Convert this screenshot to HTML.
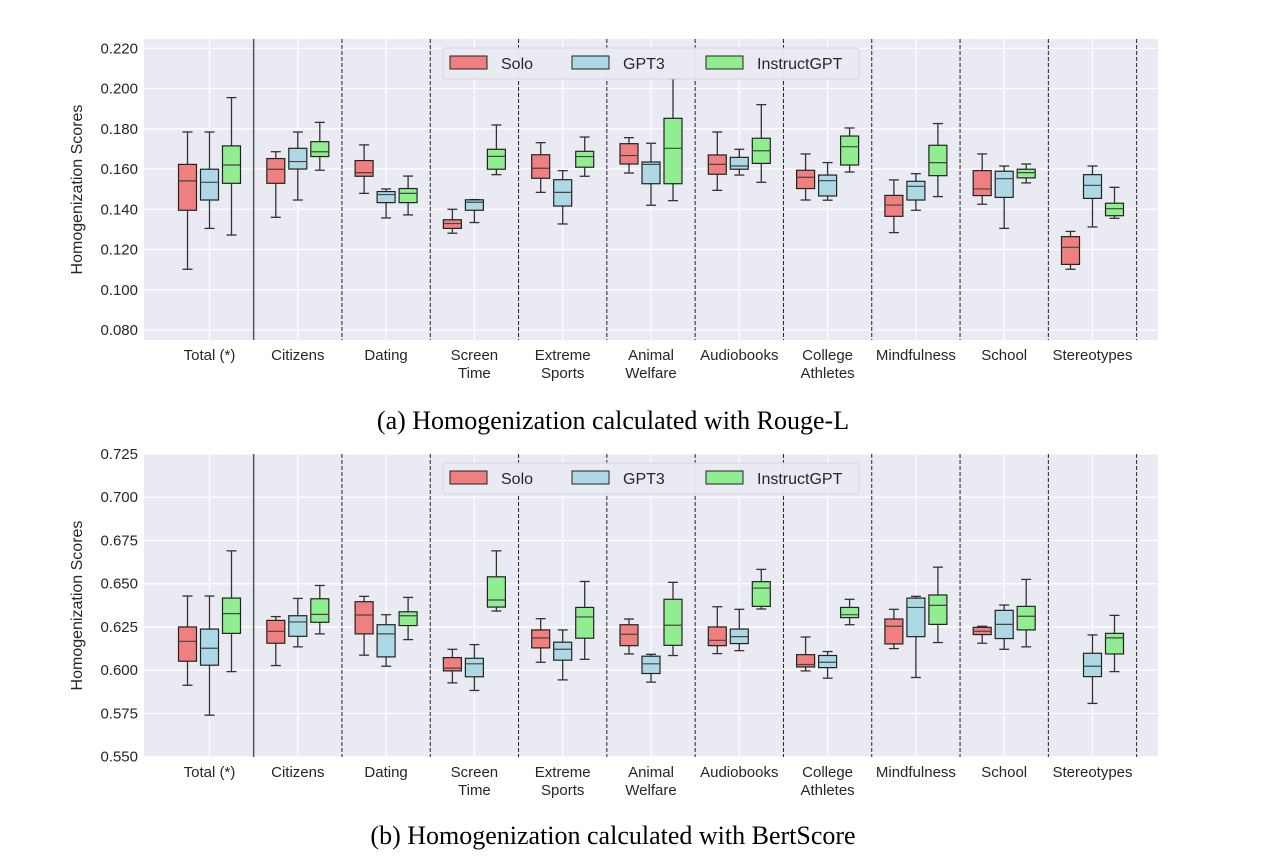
<!DOCTYPE html>
<html><head><meta charset="utf-8"><style>
body{margin:0;background:#fff;}
svg{display:block;}
text{font-family:"Liberation Sans",sans-serif;}
text.cap{font-family:"Liberation Serif",serif;}
</style></head><body>
<svg id="chart" width="1262" height="866" xmlns="http://www.w3.org/2000/svg"></svg>
<script>
const categories = ["Total (*)","Citizens","Dating","Screen\nTime","Extreme\nSports","Animal\nWelfare","Audiobooks","College\nAthletes","Mindfulness","School","Stereotypes"];
const seriesNames = ["Solo","GPT3","InstructGPT"];
const seriesColors = ["#f08080","#add8e6","#90ee90"];
// each box: [low, q1, median, q3, high]
const rougeSolo = [[0.1102,0.1395,0.1541,0.1623,0.1784],[0.1360,0.1529,0.1599,0.1652,0.1686],[0.1479,0.1564,0.1582,0.1642,0.1720],[0.1281,0.1305,0.1329,0.1348,0.1400],[0.1484,0.1554,0.1604,0.1671,0.1731],[0.1580,0.1625,0.1667,0.1726,0.1756],[0.1494,0.1574,0.1623,0.1670,0.1784],[0.1446,0.1503,0.1559,0.1594,0.1675],[0.1284,0.1365,0.1421,0.1469,0.1546],[0.1425,0.1468,0.1501,0.1592,0.1675],[0.1102,0.1126,0.1211,0.1264,0.1290]];
const rougeGPT3 = [[0.1305,0.1446,0.1534,0.1599,0.1784],[0.1446,0.1600,0.1637,0.1703,0.1784],[0.1357,0.1433,0.1473,0.1488,0.1501],[0.1334,0.1395,0.1435,0.1447,0.1448],[0.1327,0.1416,0.1484,0.1547,0.1592],[0.1420,0.1527,0.1623,0.1635,0.1728],[0.1570,0.1599,0.1615,0.1658,0.1698],[0.1445,0.1466,0.1542,0.1570,0.1632],[0.1395,0.1446,0.1514,0.1539,0.1577],[0.1305,0.1459,0.1552,0.1589,0.1615],[0.1312,0.1454,0.1519,0.1572,0.1615]];
const rougeInstruct = [[0.1272,0.1529,0.1620,0.1715,0.1955],[0.1594,0.1662,0.1686,0.1736,0.1832],[0.1372,0.1433,0.1479,0.1503,0.1565],[0.1572,0.1599,0.1663,0.1698,0.1819],[0.1564,0.1609,0.1662,0.1688,0.1759],[0.1443,0.1527,0.1703,0.1852,0.2048],[0.1534,0.1628,0.1691,0.1753,0.1920],[0.1585,0.1620,0.1711,0.1764,0.1804],[0.1463,0.1567,0.1632,0.1718,0.1826],[0.1531,0.1556,0.1582,0.1599,0.1625],[0.1355,0.1368,0.1403,0.1430,0.1509]];
const bertSolo = [[0.5913,0.6052,0.6167,0.6250,0.6429],[0.6027,0.6156,0.6225,0.6288,0.6310],[0.6087,0.6210,0.6319,0.6396,0.6427],[0.5927,0.5996,0.6012,0.6073,0.6121],[0.6046,0.6129,0.6187,0.6233,0.6298],[0.6094,0.6142,0.6208,0.6263,0.6296],[0.6096,0.6142,0.6173,0.6250,0.6367],[0.5996,0.6019,0.6033,0.6090,0.6192],[0.6125,0.6152,0.6254,0.6296,0.6352],[0.6156,0.6206,0.6225,0.6248,0.6254],null];
const bertGPT3 = [[0.5740,0.6029,0.6127,0.6238,0.6429],[0.6135,0.6196,0.6279,0.6315,0.6415],[0.6023,0.6077,0.6210,0.6263,0.6321],[0.5883,0.5962,0.6037,0.6069,0.6148],[0.5944,0.6058,0.6121,0.6162,0.6233],[0.5931,0.5981,0.6037,0.6081,0.6092],[0.6113,0.6154,0.6194,0.6238,0.6352],[0.5954,0.6015,0.6046,0.6085,0.6108],[0.5958,0.6194,0.6363,0.6417,0.6427],[0.6121,0.6183,0.6265,0.6346,0.6377],[0.5808,0.5963,0.6023,0.6098,0.6204]];
const bertInstruct = [[0.5992,0.6213,0.6327,0.6417,0.6690],[0.6210,0.6277,0.6323,0.6413,0.6490],[0.6177,0.6258,0.6315,0.6338,0.6421],[0.6342,0.6365,0.6406,0.6540,0.6690],[0.6063,0.6185,0.6308,0.6363,0.6513],[0.6085,0.6144,0.6260,0.6410,0.6508],[0.6354,0.6369,0.6475,0.6512,0.6583],[0.6263,0.6304,0.6321,0.6363,0.6410],[0.6160,0.6265,0.6375,0.6435,0.6596],[0.6135,0.6233,0.6312,0.6369,0.6525],[0.5992,0.6094,0.6187,0.6213,0.6317]];
const rougeTicks = [0.080,0.100,0.120,0.140,0.160,0.180,0.200,0.220];
const rougeTickLabels = ["0.080","0.100","0.120","0.140","0.160","0.180","0.200","0.220"];
const bertTicks = [0.550,0.575,0.600,0.625,0.650,0.675,0.700,0.725];
const bertTickLabels = ["0.550","0.575","0.600","0.625","0.650","0.675","0.700","0.725"];

const NS="http://www.w3.org/2000/svg";
const svg=document.getElementById('chart');
function mk(tag,attrs,parent){const e=document.createElementNS(NS,tag);for(const k in attrs)e.setAttribute(k,attrs[k]);(parent||svg).appendChild(e);return e;}

function drawPanel(cfg){
  const L=144,R=1158,T=cfg.top,B=cfg.bottom;
  const y=v=>cfg.y0+(cfg.v0-v)/(cfg.v0-cfg.v1)*(cfg.y1-cfg.y0);
  const step=88.3, x0=209.5;
  const cx=i=>x0+i*step;
  const g=mk('g',{});
  
  
  const bg=mk('rect',{x:L,y:T,width:R-L,height:B-T,fill:'#eaeaf2'},g);
  
  
  cfg.ticks.forEach((t,i)=>{
    const gl=mk('line',{x1:L,x2:R,y1:y(t),y2:y(t),stroke:'#fff','stroke-width':1.2},g);
    
    
    const tl=mk('text',{x:138,y:y(t)+5,'text-anchor':'end','font-size':15,fill:'#262626'},g);
    tl.textContent=cfg.tickLabels[i];
    
    
  });
  categories.forEach((c,i)=>{
    const gl=mk('line',{x1:cx(i),x2:cx(i),y1:T,y2:B,stroke:'#fff','stroke-width':1.2},g);
    
    
    const lines=c.split('\n');
    lines.forEach((ln,j)=>{
      const tl=mk('text',{x:cx(i),y:B+20+j*18,'text-anchor':'middle','font-size':15,fill:'#262626'},g);
      tl.textContent=ln;
      
      
    });
  });
  for(let i=0;i<categories.length;i++){
    const sx=x0+step/2+i*step;
    const sl=mk('line',{x1:sx,x2:sx,y1:T,y2:B,stroke:i==0?'#555':'#222','stroke-width':i==0?1.5:1,'stroke-dasharray':i==0?'none':'4,2'},g);
    
    
  }
  cfg.series.forEach((ser,s)=>{
    ser.forEach((b,i)=>{
      if(!b)return;
      const x=cx(i)+(s-1)*22, w=18;
      const bx=mk('g',{},g);
      
      
      mk('line',{x1:x,x2:x,y1:y(b[4]),y2:y(b[3]),stroke:'#333','stroke-width':1.3},bx);
      mk('line',{x1:x,x2:x,y1:y(b[1]),y2:y(b[0]),stroke:'#333','stroke-width':1.3},bx);
      mk('line',{x1:x-5,x2:x+5,y1:y(b[4]),y2:y(b[4]),stroke:'#333','stroke-width':1.3},bx);
      mk('line',{x1:x-5,x2:x+5,y1:y(b[0]),y2:y(b[0]),stroke:'#333','stroke-width':1.3},bx);
      mk('rect',{x:x-w/2,y:y(b[3]),width:w,height:Math.max(0.5,y(b[1])-y(b[3])),fill:seriesColors[s],stroke:'#222','stroke-width':1.2},bx);
      mk('line',{x1:x-w/2,x2:x+w/2,y1:y(b[2]),y2:y(b[2]),stroke:'#444','stroke-width':1.2},bx);
    });
  });
  const lg=mk('g',{},g);
  
  
  const ly=T+9;
  mk('rect',{x:443,y:ly,width:416,height:31,rx:3,fill:'#eaeaf2',stroke:'#d4d4dc','stroke-width':1,opacity:0.95},lg);
  const px=[450,572,706];
  seriesNames.forEach((n,s)=>{
    const e=mk('g',{},lg);
    
    
    mk('rect',{x:px[s],y:ly+8,width:37,height:13,fill:seriesColors[s],stroke:'#222','stroke-width':1},e);
    const t=mk('text',{x:px[s]+51,y:ly+21,'font-size':16,fill:'#262626'},e);
    t.textContent=n;
  });
  const yt=mk('text',{x:0,y:0,'text-anchor':'middle','font-size':16,fill:'#262626',transform:`translate(82,${(T+B)/2}) rotate(-90)`},g);
  yt.textContent='Homogenization Scores';
  
  
  const cap=mk('text',{x:613,y:cfg.capY,'text-anchor':'middle','font-size':26,fill:'#000','class':'cap'},g);
  cap.textContent=cfg.caption;
  
  
}
drawPanel({name:'rouge-panel',top:39,bottom:340,v0:0.220,y0:48.3,v1:0.080,y1:330,ticks:rougeTicks,tickLabels:rougeTickLabels,series:[rougeSolo,rougeGPT3,rougeInstruct],caption:'(a) Homogenization calculated with Rouge-L',capY:429});
drawPanel({name:'bertscore-panel',top:454,bottom:757,v0:0.725,y0:454,v1:0.550,y1:756.7,ticks:bertTicks,tickLabels:bertTickLabels,series:[bertSolo,bertGPT3,bertInstruct],caption:'(b) Homogenization calculated with BertScore',capY:844});
</script>
</body></html>
